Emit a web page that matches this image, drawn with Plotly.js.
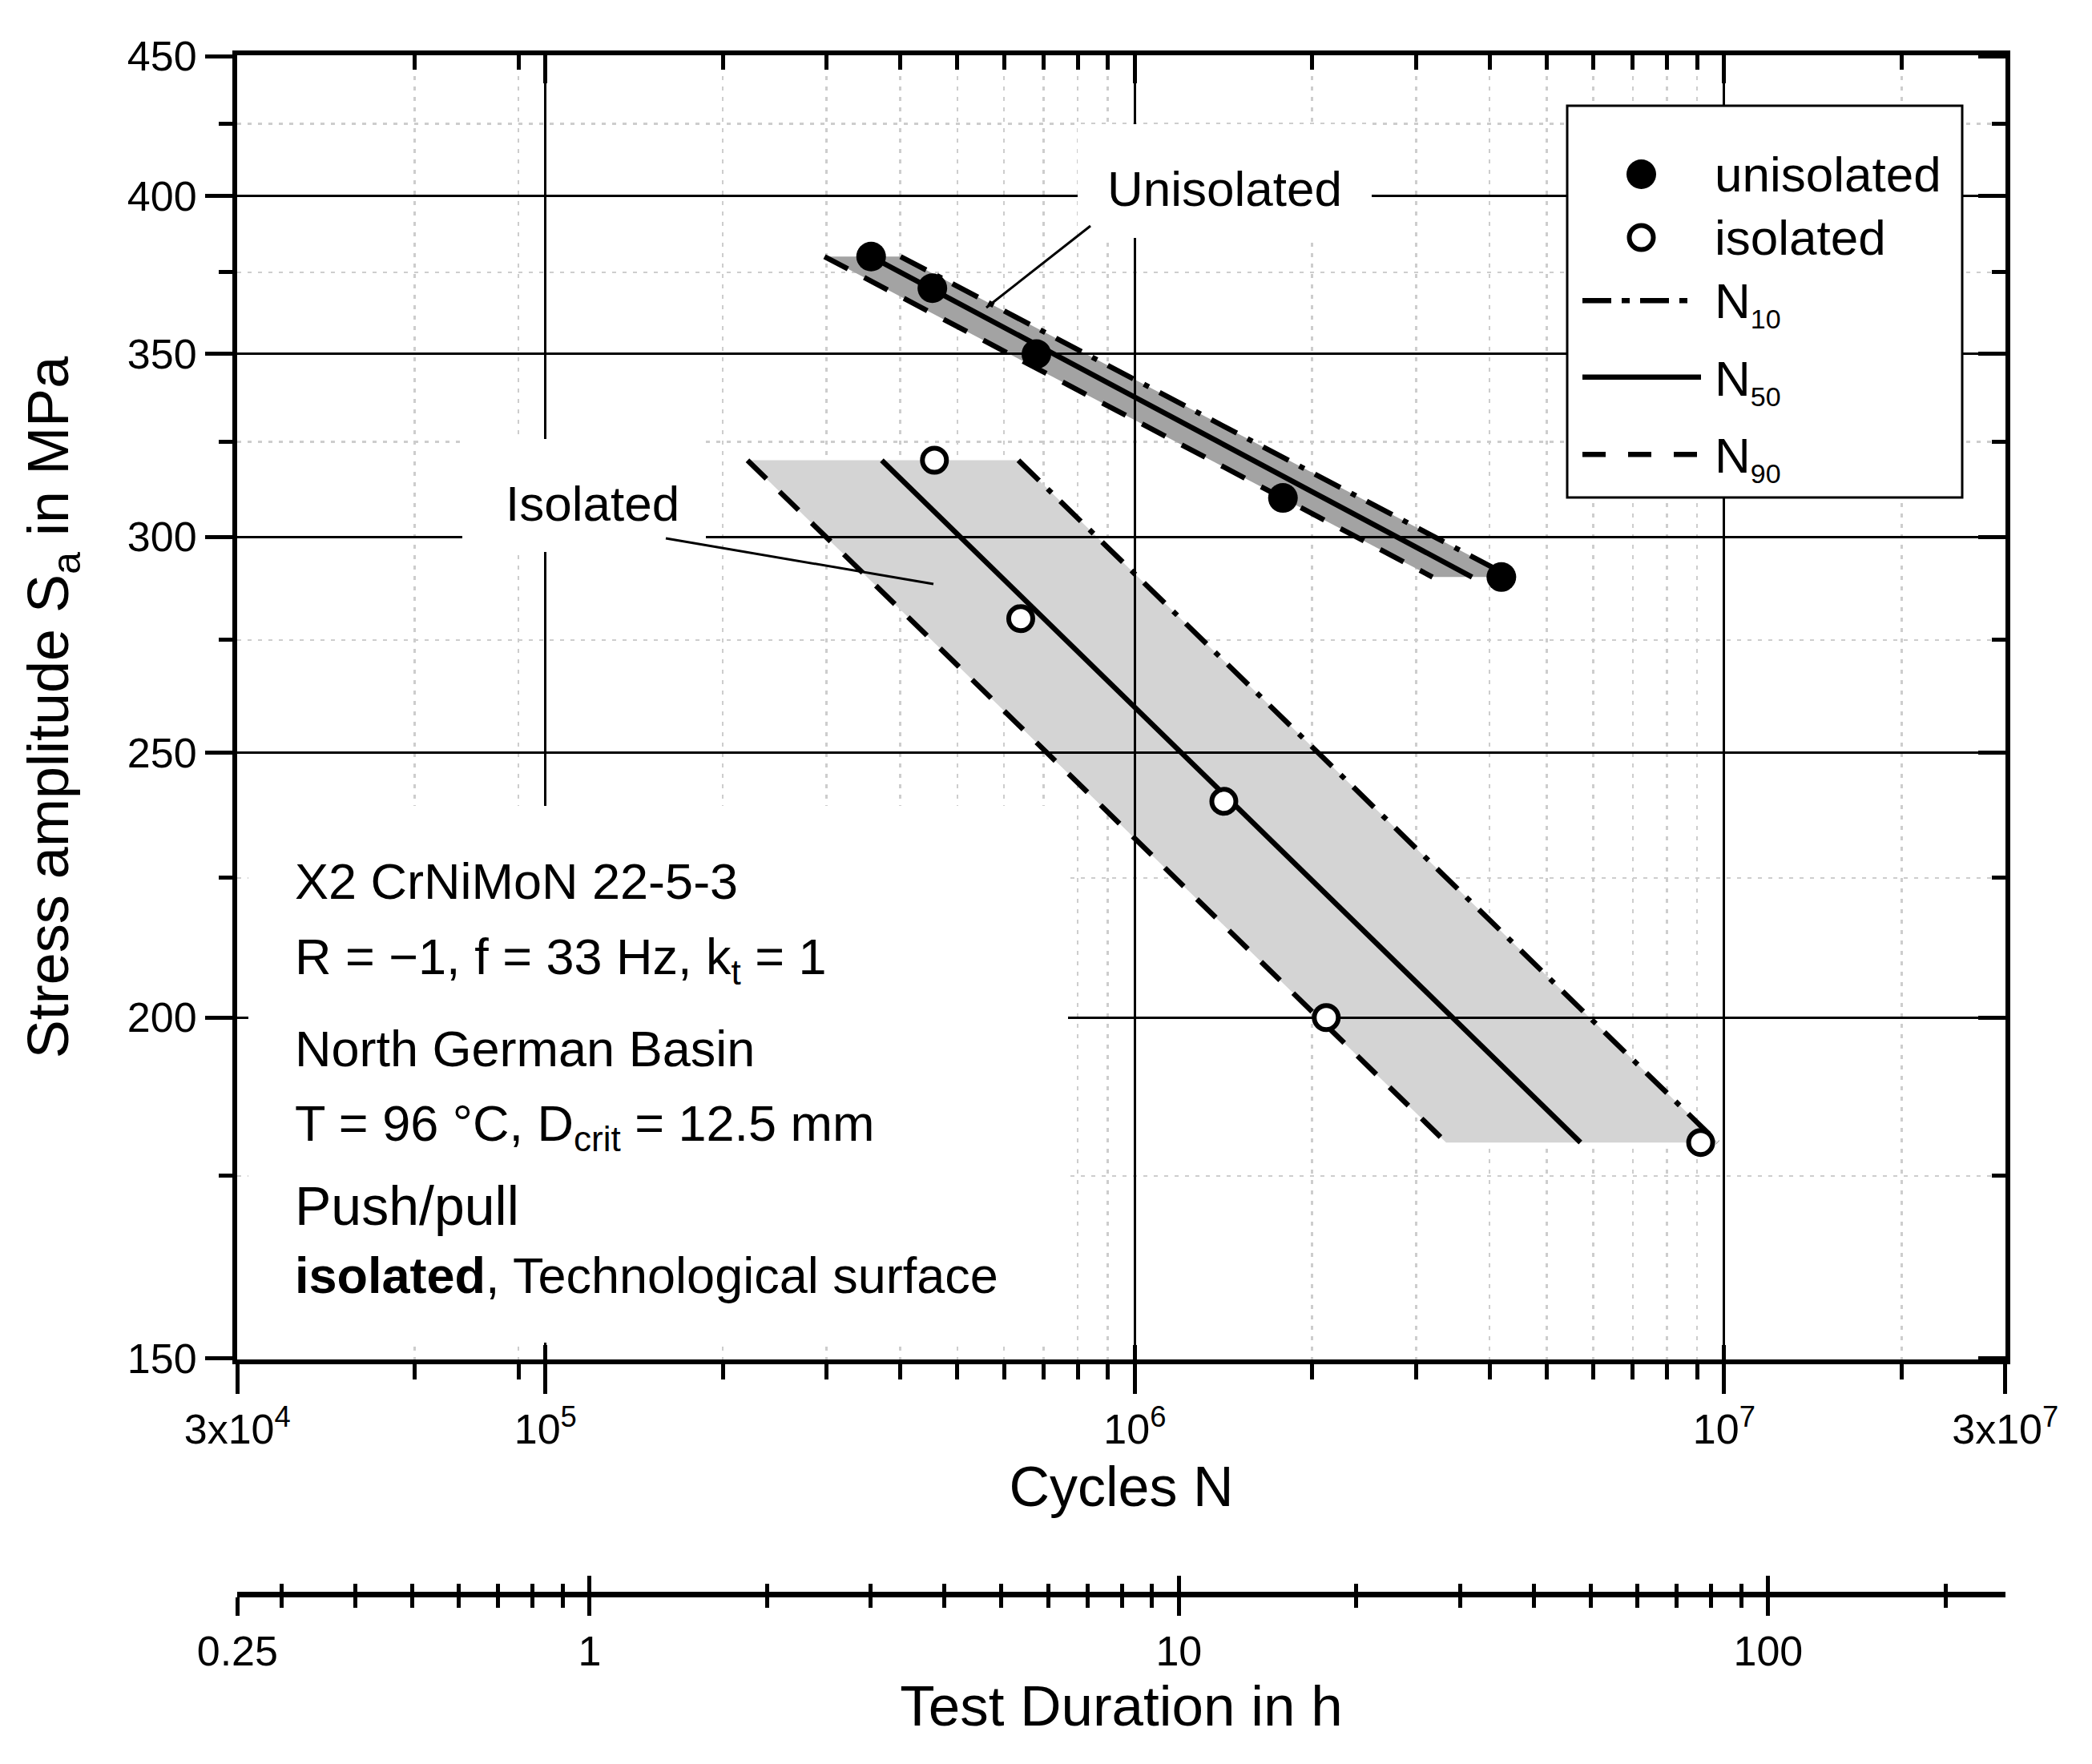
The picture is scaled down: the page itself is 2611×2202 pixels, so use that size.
<!DOCTYPE html>
<html><head><meta charset="utf-8">
<script src="https://cdn.plot.ly/plotly-3.0.1.min.js"></script>
<style>html,body{margin:0;padding:0;background:#fff}</style>
</head><body>
<div id="chart" style="width:2611px;height:2202px"></div>
<script>
// ---------------- data ----------------
const uniN = [356900, 453400, 680800, 1784000, 4188000];
const uniS = [380, 370, 350, 310, 290];
const isoN = [457100, 640400, 1416000, 2113000, 9125000];
const isoS = [320, 280, 240, 200, 180];

const uniLineS = [380, 290];
const uniN10 = [400500, 4347000];
const uniN50 = [356900, 3735000];
const uniN90 = [297500, 3200000];

const isoLineS = [320, 180];
const isoN10 = [634500, 9750000];
const isoN50 = [372100, 5705000];
const isoN90 = [220200, 3375000];

const xTickVals = [3e4, 1e5, 1e6, 1e7, 3e7];
const xTickText = ['3x10<sup>4</sup>', '10<sup>5</sup>', '10<sup>6</sup>', '10<sup>7</sup>', '3x10<sup>7</sup>'];
const xMajorInner = [1e5, 1e6, 1e7];
const xMinorVals = [6e4, 9e4, 2e5, 3e5, 4e5, 5e5, 6e5, 7e5, 8e5, 9e5, 2e6, 3e6, 4e6, 5e6, 6e6, 7e6, 8e6, 9e6, 2e7];
const yTickVals = [150, 200, 250, 300, 350, 400, 450];
const yMajorInner = [200, 250, 300, 350, 400];
const yMinorVals = [175, 225, 275, 325, 375, 425];
const hTickVals = [0.2526, 1, 10, 100];
const hTickText = ['0.25', '1', '10', '100'];
const hMinorVals = [0.3, 0.4, 0.5, 0.6, 0.7, 0.8, 0.9, 2, 3, 4, 5, 6, 7, 8, 9, 20, 30, 40, 50, 60, 70, 80, 90, 200];
const freqHz = 33;

// ---------------- geometry helpers ----------------
const W = 2611, H = 2202;
const L = 296, R = 2503, T = 69, B = 1990, XAXIS_Y = 1697;
const px = x => (x - L) / (R - L);
const py = y => (B - y) / (B - T);
const FONT = 'Liberation Sans, Arial, sans-serif';
const lg = Math.log10;
const eps = 0.0003;
const xr = [lg(3e4) - eps, lg(3e7) + eps];
const yr = [lg(150) - eps, lg(450) + eps];
const hr = [lg(3e4 / (freqHz * 3600)) - eps, lg(3e7 / (freqHz * 3600)) + eps];
const ydom = [py(XAXIS_Y), 1];

const GRIDC = '#cdcdcd';
const GDASH = '5px,8px';

// ---------------- traces ----------------
const traces = [];
// bands (subplot A)
traces.push({
  x: uniN90.concat(uniN10.slice().reverse()),
  y: uniLineS.concat(uniLineS.slice().reverse()),
  xaxis: 'x', yaxis: 'y', mode: 'lines', fill: 'toself',
  fillcolor: '#a3a3a3', line: {width: 0, color: 'rgba(0,0,0,0)'},
  hoverinfo: 'skip', showlegend: false
});
traces.push({
  x: isoN90.concat(isoN10.slice().reverse()),
  y: isoLineS.concat(isoLineS.slice().reverse()),
  xaxis: 'x', yaxis: 'y', mode: 'lines', fill: 'toself',
  fillcolor: '#d4d4d4', line: {width: 0, color: 'rgba(0,0,0,0)'},
  hoverinfo: 'skip', showlegend: false
});
// dummy traces to register overlay axes
[['x2', 'y'], ['x3', 'y'], ['x4', 'y'], ['x5', 'y'], ['x', 'y2']].forEach(([xa, ya]) => {
  traces.push({x: [null], y: [null], xaxis: xa, yaxis: ya, mode: 'markers',
    hoverinfo: 'skip', showlegend: false});
});
// lines (subplot B)
const DASHDOT = '36px,15px,7px,15px';
const DASH = '33px,23px';
const LW = 6.5;
const lineTrace = (xs, ys, dash, name) => ({
  x: xs, y: ys, xaxis: 'x6', yaxis: 'y3', mode: 'lines', name: name,
  line: {color: '#000', width: LW, dash: dash}, hoverinfo: 'skip', showlegend: false
});
traces.push(lineTrace(uniN10, uniLineS, DASHDOT, 'N10'));
traces.push(lineTrace(uniN50, uniLineS, 'solid', 'N50'));
traces.push(lineTrace(uniN90, uniLineS, DASH, 'N90'));
traces.push(lineTrace(isoN10, isoLineS, DASHDOT, 'N10'));
traces.push(lineTrace(isoN50, isoLineS, 'solid', 'N50'));
traces.push(lineTrace(isoN90, isoLineS, DASH, 'N90'));
// points
traces.push({x: uniN, y: uniS, xaxis: 'x6', yaxis: 'y3', mode: 'markers', name: 'unisolated',
  marker: {symbol: 'circle', size: 37, color: '#000', line: {width: 0}}, showlegend: false});
traces.push({x: isoN, y: isoS, xaxis: 'x6', yaxis: 'y3', mode: 'markers', name: 'isolated',
  marker: {symbol: 'circle', size: 30, color: '#fff', line: {color: '#000', width: 6}}, showlegend: false});

// ---------------- axes ----------------
const tickFont = {family: FONT, size: 52, color: '#000'};
const base = {type: 'log', zeroline: false, fixedrange: true, automargin: false, tickcolor: '#000', linecolor: '#000'};

const layout = {
  width: W, height: H,
  margin: {l: L, r: W - R, t: T, b: H - B, pad: 0},
  paper_bgcolor: '#fff', plot_bgcolor: 'rgba(0,0,0,0)',
  font: {family: FONT, color: '#000'},
  showlegend: false,
  xaxis: Object.assign({}, base, {
    range: xr, domain: [0, 1], anchor: 'y', side: 'bottom',
    showline: true, linewidth: 6, mirror: false,
    ticks: 'outside', ticklen: 37, tickwidth: 5,
    tickmode: 'array', tickvals: xTickVals, ticktext: xTickText, tickfont: tickFont,
    showgrid: false,
    minor: {tickmode: 'array', tickvals: xMinorVals, ticks: 'outside', ticklen: 19, tickwidth: 5,
      tickcolor: '#000', showgrid: true, gridcolor: GRIDC, gridwidth: 2.5, griddash: GDASH},
    title: {text: 'Cycles N', font: {family: FONT, size: 70, color: '#000'}, standoff: 21}
  }),
  xaxis3: Object.assign({}, base, {
    range: xr, overlaying: 'x', anchor: 'y', side: 'top',
    showline: true, linewidth: 6, ticks: 'inside', ticklen: 35, tickwidth: 5,
    tickmode: 'array', tickvals: xMajorInner, showticklabels: false, showgrid: false,
    minor: {tickmode: 'array', tickvals: xMinorVals, ticks: 'inside', ticklen: 18, tickwidth: 5,
      tickcolor: '#000', showgrid: false}
  }),
  xaxis4: Object.assign({}, base, {
    range: xr, overlaying: 'x', anchor: 'y', side: 'bottom',
    showline: false, ticks: 'inside', ticklen: 18, tickwidth: 5,
    tickmode: 'array', tickvals: xMajorInner, showticklabels: false, showgrid: false
  }),
  xaxis2: Object.assign({}, base, {
    range: hr, overlaying: 'x', anchor: 'free', position: 0, side: 'bottom',
    showline: true, linewidth: 7, ticks: 'outside', ticklen: 23, tickwidth: 5,
    tickmode: 'array', tickvals: hTickVals, ticktext: hTickText, tickfont: tickFont,
    showgrid: false,
    minor: {tickmode: 'array', tickvals: hMinorVals, ticks: 'outside', ticklen: 13, tickwidth: 5,
      tickcolor: '#000', showgrid: false},
    title: {text: 'Test Duration in h', font: {family: FONT, size: 71, color: '#000'}, standoff: 12}
  }),
  xaxis5: Object.assign({}, base, {
    range: hr, overlaying: 'x', anchor: 'free', position: 0, side: 'bottom',
    showline: false, ticks: 'inside', ticklen: 23, tickwidth: 5,
    tickmode: 'array', tickvals: hTickVals, showticklabels: false, showgrid: false,
    minor: {tickmode: 'array', tickvals: hMinorVals, ticks: 'inside', ticklen: 13, tickwidth: 5,
      tickcolor: '#000', showgrid: false}
  }),
  yaxis: Object.assign({}, base, {
    range: yr, domain: ydom, anchor: 'x', side: 'left',
    showline: true, linewidth: 6, ticks: 'outside', ticklen: 34, tickwidth: 5,
    tickmode: 'array', tickvals: yTickVals, tickfont: tickFont, showgrid: false,
    minor: {tickmode: 'array', tickvals: yMinorVals, ticks: 'outside', ticklen: 17, tickwidth: 5,
      tickcolor: '#000', showgrid: true, gridcolor: GRIDC, gridwidth: 2.5, griddash: GDASH},
    title: {text: 'Stress amplitude S<sub>a</sub> in MPa', font: {family: FONT, size: 72, color: '#000'}, standoff: 52}
  }),
  yaxis2: Object.assign({}, base, {
    range: yr, overlaying: 'y', anchor: 'x', side: 'right',
    showline: true, linewidth: 6, ticks: 'inside', ticklen: 34, tickwidth: 5,
    tickmode: 'array', tickvals: yTickVals, showticklabels: false, showgrid: false,
    minor: {tickmode: 'array', tickvals: yMinorVals, ticks: 'inside', ticklen: 17, tickwidth: 5,
      tickcolor: '#000', showgrid: false}
  }),
  // subplot B: major grid drawn above the bands, carries lines & points
  xaxis6: Object.assign({}, base, {
    range: xr, domain: [0, 1], anchor: 'y3', showline: false, ticks: '',
    showticklabels: false, tickmode: 'array', tickvals: xMajorInner,
    showgrid: true, gridcolor: '#000', gridwidth: 3
  }),
  yaxis3: Object.assign({}, base, {
    range: yr, domain: ydom, anchor: 'x6', showline: false, ticks: '',
    showticklabels: false, tickmode: 'array', tickvals: yMajorInner,
    showgrid: true, gridcolor: '#000', gridwidth: 3
  }),
  shapes: [],
  annotations: []
};

// ---------------- white label boxes, leader lines ----------------
const rectPx = (x0, y0, x1, y1, extra) => Object.assign({
  type: 'rect', xref: 'paper', yref: 'paper', layer: 'above',
  x0: px(x0), x1: px(x1), y0: py(y1), y1: py(y0),
  fillcolor: '#fff', line: {width: 0}
}, extra || {});
const linePx = (x0, y0, x1, y1, w, dash) => ({
  type: 'line', xref: 'paper', yref: 'paper', layer: 'above',
  x0: px(x0), y0: py(y0), x1: px(x1), y1: py(y1),
  line: {color: '#000', width: w, dash: dash || 'solid'}
});
layout.shapes.push(rectPx(1345, 155, 1712, 297));
layout.shapes.push(rectPx(577, 548, 881, 689));
layout.shapes.push(rectPx(310, 1006, 1333, 1676));
layout.shapes.push(linePx(1361, 282, 1231, 384, 3));
layout.shapes.push(linePx(831, 672, 1165, 729, 3));

// ---------------- legend (drawn manually) ----------------
layout.shapes.push(rectPx(1956, 132, 2449, 621, {line: {color: '#000', width: 3}}));
const circlePx = (cx, cy, d, fill, lw) => ({
  type: 'circle', xref: 'paper', yref: 'paper', layer: 'above',
  x0: px(cx - d / 2), x1: px(cx + d / 2), y0: py(cy + d / 2), y1: py(cy - d / 2),
  fillcolor: fill, line: {color: '#000', width: lw}
});
layout.shapes.push(circlePx(2048.5, 217.5, 37, '#000', 0));
layout.shapes.push(circlePx(2048.5, 296.4, 30, '#fff', 6));
layout.shapes.push(linePx(1975, 375.3, 2107, 375.3, LW, '36px,13px,10px,13px'));
layout.shapes.push(linePx(1975, 470.7, 2123, 470.7, LW));
layout.shapes.push(linePx(1975, 567.2, 2118, 567.2, LW, '29px,28px'));

const ann = (text, x, y, size, xanchor) => ({
  text: text, xref: 'paper', yref: 'paper', x: px(x), y: py(y),
  xanchor: xanchor || 'left', yanchor: 'top', showarrow: false,
  font: {family: FONT, size: size, color: '#000'}
});
const SUB = s => '<sub><span style="font-size:34px">' + s + '</span></sub>';
layout.annotations.push(ann('unisolated', 2138, 181, 62));
layout.annotations.push(ann('isolated', 2138, 260, 62));
layout.annotations.push(ann('N' + SUB('10'), 2138, 339.5, 62));
layout.annotations.push(ann('N' + SUB('50'), 2138, 436, 62));
layout.annotations.push(ann('N' + SUB('90'), 2138, 532, 62));

layout.annotations.push(ann('Unisolated', 1528.6, 199, 62, 'center'));
layout.annotations.push(ann('Isolated', 739, 592, 62, 'center'));

layout.annotations.push(ann('X2 CrNiMoN 22-5-3', 366, 1063, 63));
layout.annotations.push(ann('R = \u22121, f = 33 Hz, k<sub>t</sub> = 1', 366, 1157, 63));
layout.annotations.push(ann('North German Basin', 366, 1272, 63));
layout.annotations.push(ann('T = 96 \u00b0C, D<sub>crit</sub> = 12.5 mm', 366, 1365, 63));
layout.annotations.push(ann('Push/pull', 366, 1465, 68));
layout.annotations.push(ann('<b>isolated</b>, Technological surface', 366, 1555, 63));

Plotly.newPlot('chart', traces, layout, {staticPlot: true, displayModeBar: false});
</script>
</body></html>
